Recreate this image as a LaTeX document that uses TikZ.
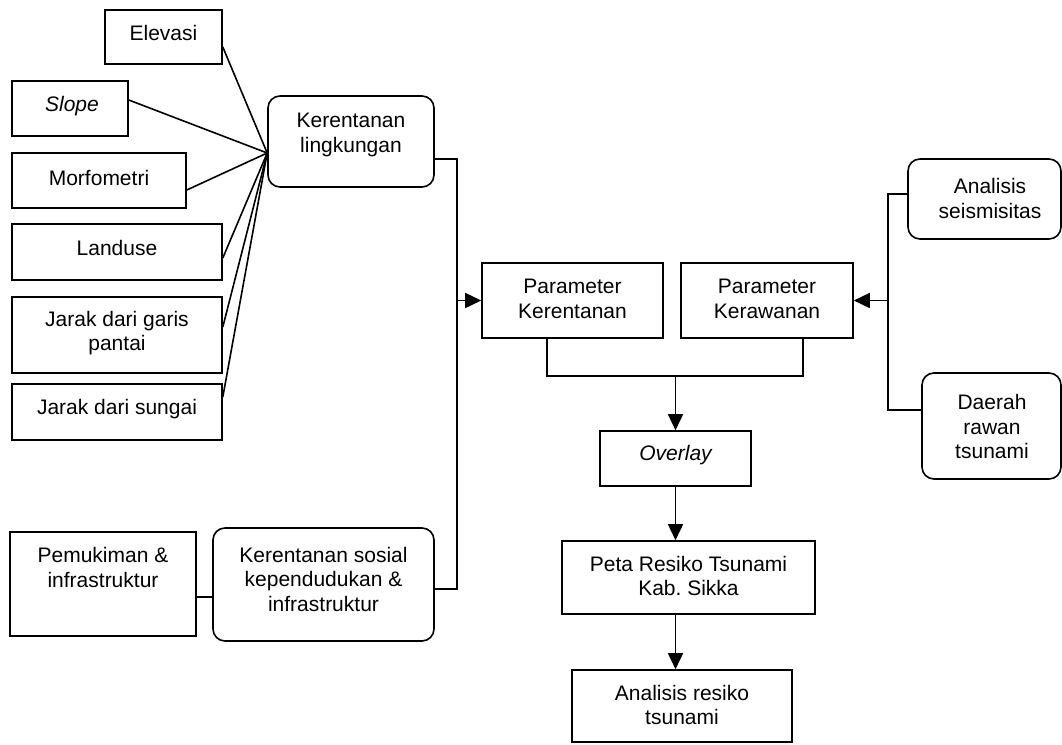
\documentclass[tikz,border=0pt]{standalone}
\usepackage{fontspec}
\setmainfont{Liberation Sans}
\usetikzlibrary{arrows.meta}
\frenchspacing
\begin{document}
\begin{tikzpicture}[x=1pt,y=-1pt,
  box/.style={draw, line width=1.6pt, rectangle, inner sep=0pt},
  rbox/.style={box, rounded corners=12pt},
  txt/.style={font=\fontsize{21}{24.5}\selectfont, align=center, inner sep=0pt},
  conn/.style={line width=1.6pt},
  arr/.style={conn, -{Triangle[length=16pt,width=15pt]}}]
\useasboundingbox (0,0) rectangle (1062,744);
% boxes
\node[box, minimum width=117pt, minimum height=54pt] (elev) at (163.5,37) {};
\node[box, minimum width=116pt, minimum height=55pt] (slope) at (70,108.5) {};
\node[box, minimum width=174pt, minimum height=55pt] (morf) at (99,180.5) {};
\node[box, minimum width=210pt, minimum height=56pt] (land) at (117,252) {};
\node[box, minimum width=210pt, minimum height=76pt] (pantai) at (117,335) {};
\node[box, minimum width=210pt, minimum height=56pt] (sungai) at (117,412) {};
\node[rbox, minimum width=166pt, minimum height=91pt] (kl) at (351,141.5) {};
\node[box, minimum width=186pt, minimum height=104pt] (pem) at (103,584) {};
\node[rbox, minimum width=221pt, minimum height=113pt] (ks) at (323.5,584.5) {};
\node[box, minimum width=181pt, minimum height=75pt] (pk) at (572.5,300.5) {};
\node[box, minimum width=172pt, minimum height=75pt] (pkw) at (767,300.5) {};
\node[box, minimum width=151pt, minimum height=55pt] (ov) at (675.5,458.5) {};
\node[box, minimum width=253pt, minimum height=73pt] (peta) at (688.5,577.5) {};
\node[box, minimum width=220pt, minimum height=72pt] (ar) at (682,706) {};
\node[rbox, minimum width=153pt, minimum height=80pt] (as) at (984.5,199) {};
\node[rbox, minimum width=139pt, minimum height=106pt] (dr) at (991.5,426) {};
% texts
\node[txt] (elev-t) at (163.5,33) {Elevasi};
\node[txt] (slope-t) at (72,106) {\itshape Slope};
\node[txt] (morf-t) at (99,178) {Morfometri};
\node[txt] (land-t) at (117,248) {Landuse};
\node[txt] (pantai-t) at (117,333) {Jarak dari garis\\pantai};
\node[txt] (sungai-t) at (117,409) {Jarak dari sungai};
\node[txt] (kl-t) at (351,135) {Kerentanan\\lingkungan};
\node[txt] (pem-t) at (103,567.5) {Pemukiman \&\\infrastruktur};
\node[txt] (ks-t) at (323.5,579) {Kerentanan sosial\\kependudukan \&\\infrastruktur};
\node[txt] (pk-t) at (572.5,299) {Parameter\\Kerentanan};
\node[txt] (pkw-t) at (767,299) {Parameter\\Kerawanan};
\node[txt] (ov-t) at (675.5,455) {\itshape Overlay};
\node[txt] (peta-t) at (688.5,576) {Peta Resiko Tsunami\\Kab.\ Sikka};
\node[txt] (ar-t) at (682,705) {Analisis resiko\\tsunami};
\node[txt] (as-t) at (990,198.5) {Analisis\\seismisitas};
\node[txt] (dr-t) at (992,426.5) {Daerah\\rawan\\tsunami};
% fan into Kerentanan lingkungan
\coordinate (fan) at ([yshift=-11.5pt]kl.west);
\draw[conn] ([yshift=-10pt]elev.east) -- (fan);
\draw[conn] ([yshift=8.5pt]slope.east) -- (fan);
\draw[conn] ([yshift=-9.5pt]morf.east) -- (fan);
\draw[conn] ([yshift=-6pt]land.east) -- (fan);
\draw[conn] ([yshift=8pt]pantai.east) -- (fan);
\draw[conn] ([yshift=15pt]sungai.east) -- (fan);
% left bus
\coordinate (klo) at ([yshift=-17.5pt]kl.east);
\coordinate (kso) at ([yshift=-4.5pt]ks.east);
\coordinate (busx) at (457,300);
\draw[conn] (klo) -- (busx |- klo) -- (busx |- kso) -- (kso);
\draw[arr] (busx |- pk.west) -- (pk.west);
\draw[conn] ([yshift=-13pt]pem.east) -- ([yshift=-13pt]pem.east -| ks.west);
% right bus
\coordinate (aso) at ([yshift=5pt]as.west);
\coordinate (dro) at ([yshift=16pt]dr.west);
\coordinate (rbus) at (888,300);
\draw[conn] (aso) -- (rbus |- aso) -- (rbus |- dro) -- (dro);
\draw[arr] (rbus |- pkw.east) -- (pkw.east);
% bracket to overlay
\coordinate (pkb) at ([xshift=-25.5pt]pk.south);
\coordinate (pkwb) at ([xshift=36pt]pkw.south);
\coordinate (brk) at (675.5,376);
\draw[conn] (pkb) -- (pkb |- brk) -- (pkwb |- brk) -- (pkwb);
\draw[arr] (brk) -- (ov.north);
\draw[arr] (ov.south) -- (ov.south |- peta.north);
\draw[arr] (ov.south |- peta.south) -- (ov.south |- ar.north);
\end{tikzpicture}
\end{document}
